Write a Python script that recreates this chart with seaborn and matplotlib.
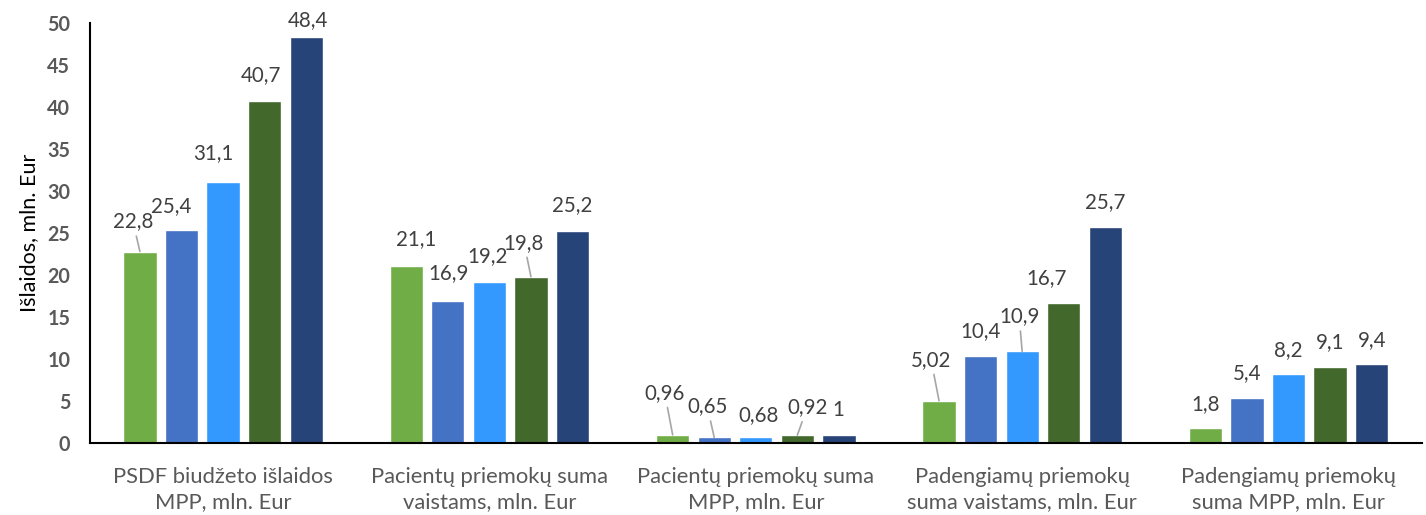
import pandas as pd
import numpy as np
import matplotlib.pyplot as plt
import seaborn as sns

# Chart data
categories = [
    'PSDF biudžeto išlaidos\nMPP, mln. Eur',
    'Pacientų priemokų suma\nvaistams, mln. Eur',
    'Pacientų priemokų suma\nMPP, mln. Eur',
    'Padengiamų priemokų\nsuma vaistams, mln. Eur',
    'Padengiamų priemokų\nsuma MPP, mln. Eur',
]
series = ['S1', 'S2', 'S3', 'S4', 'S5']
s1 = [22.8, 21.1, 0.96, 5.02, 1.8]
s2 = [25.4, 16.9, 0.65, 10.4, 5.4]
s3 = [31.1, 19.2, 0.68, 10.9, 8.2]
s4 = [40.7, 19.8, 0.92, 16.7, 9.1]
s5 = [48.4, 25.2, 1.0, 25.7, 9.4]
y_ticks = list(range(0, 51, 5))

colors = ['#70AD47', '#4472C4', '#3399FF', '#43682B', '#264478']

# label offsets in pixels (dx, dy, leader line) per series, per category
label_offsets = [
    [(-7, 30, True), (10, 27, False), (-8, 42, True), (-8, 41, True), (0, 24, False)],
    [(-10, 24, False), (1, 28, False), (-7, 31, True), (0, 25, False), (0, 24, False)],
    [(-10, 29, False), (-2, 26, False), (3, 22, False), (-3, 35, True), (0, 24, False)],
    [(-4, 26, False), (-7, 34, True), (10, 28, True), (-17, 25, False), (0, 24, False)],
    [(2, 17, False), (0, 26, False), (-1, 25, False), (0, 25, False), (0, 24, False)],
]

rows = []
for name, vals in zip(series, [s1, s2, s3, s4, s5]):
    for cat, v in zip(categories, vals):
        rows.append({'category': cat, 'series': name, 'value': v})
df = pd.DataFrame(rows)

sns.set_style('white')
plt.rcParams['font.family'] = ['Lato', 'DejaVu Sans']

fig = plt.figure(figsize=(14.26, 5.15), dpi=100)
ax = fig.add_axes([0.063, 0.140, 0.934, 0.815])

sns.barplot(data=df, x='category', y='value', hue='series', order=categories,
            hue_order=series, palette=colors, saturation=1, width=0.78, gap=0.2,
            legend=False, ax=ax)

for container, offsets in zip(ax.containers, label_offsets):
    for bar, (dx, dy, line) in zip(container, offsets):
        h = bar.get_height()
        x = bar.get_x() + bar.get_width() / 2
        txt = f'{h:g}'.replace('.', ',')
        arrow = dict(arrowstyle='-', color='#A6A6A6', lw=1.2, shrinkA=1, shrinkB=0) if line else None
        ax.annotate(txt, xy=(x, h), xytext=(dx, dy), textcoords='offset pixels',
                    ha='center', va='center', fontsize=14.8, color='#404040',
                    arrowprops=arrow, annotation_clip=False)

ax.set_ylim(0, 50)
ax.set_xlim(-0.5, 4.5)
ax.set_yticks(y_ticks)
ax.set_yticklabels([str(t) for t in y_ticks], fontweight='bold', fontsize=14.2, color='#595959')
ax.tick_params(axis='y', length=0, pad=14)
ax.tick_params(axis='x', length=0, pad=17, labelsize=15.8, labelcolor='#595959')
for lbl in ax.get_xticklabels():
    lbl.set_linespacing(1.32)

ax.set_xlabel('')
ax.set_ylabel('Išlaidos, mln. Eur', fontsize=15.5, color='black', labelpad=6)

sns.despine(ax=ax)
for side in ['left', 'bottom']:
    ax.spines[side].set_color('black')
    ax.spines[side].set_linewidth(1.5)

plt.savefig('out.png', dpi=100)
